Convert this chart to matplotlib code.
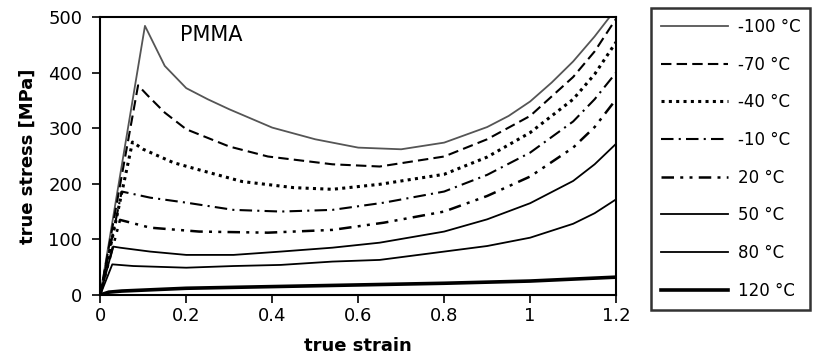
import numpy as np
import matplotlib
matplotlib.use('Agg')
import matplotlib.pyplot as plt

plt.rcParams['font.family'] = ['DejaVu Sans']

# temperature labels
labels = ['-100 \u00b0C', '-70 \u00b0C', '-40 \u00b0C', '-10 \u00b0C',
          '20 \u00b0C', '50 \u00b0C', '80 \u00b0C', '120 \u00b0C']

# true strain / true stress [MPa]
strainM100 = [0, 0.104, 0.15, 0.2, 0.25, 0.3, 0.4, 0.5, 0.6, 0.7, 0.8, 0.9, 0.95, 1.0, 1.05, 1.1, 1.15, 1.2]
stressM100 = [0, 484, 412, 372, 352, 334, 301, 280, 265, 262, 274, 302, 322, 348, 382, 420, 465, 515]

strainM70 = [0, 0.088, 0.11, 0.15, 0.2, 0.3, 0.39, 0.54, 0.65, 0.8, 0.9, 1.0, 1.1, 1.15, 1.2]
stressM70 = [0, 377, 359, 328, 298, 267, 249, 235, 231, 249, 280, 322, 392, 438, 497]

strainM40 = [0, 0.075, 0.1, 0.17, 0.23, 0.33, 0.45, 0.54, 0.65, 0.8, 0.9, 1.0, 1.1, 1.15, 1.2]
stressM40 = [0, 275, 262, 238, 225, 204, 193, 190, 199, 217, 248, 292, 352, 397, 455]

strainM10 = [0, 0.05, 0.116, 0.2, 0.31, 0.42, 0.54, 0.66, 0.8, 0.9, 1.0, 1.1, 1.15, 1.2]
stressM10 = [0, 186, 175, 166, 153, 150, 153, 166, 186, 216, 256, 312, 352, 400]

strainP20 = [0, 0.046, 0.116, 0.23, 0.39, 0.54, 0.66, 0.8, 0.9, 1.0, 1.1, 1.15, 1.2]
stressP20 = [0, 135, 121, 114, 112, 117, 130, 150, 178, 213, 265, 302, 352]

strainP50 = [0, 0.03, 0.046, 0.116, 0.2, 0.31, 0.42, 0.54, 0.65, 0.8, 0.9, 1.0, 1.1, 1.15, 1.2]
stressP50 = [0, 87, 85, 78, 72, 72, 78, 85, 94, 114, 136, 165, 205, 235, 272]

strainP80 = [0, 0.028, 0.077, 0.2, 0.31, 0.42, 0.54, 0.65, 0.8, 0.9, 1.0, 1.1, 1.15, 1.2]
stressP80 = [0, 55, 52, 49, 52, 54, 60, 63, 78, 88, 103, 128, 147, 172]

strainP120 = [0, 0.02, 0.05, 0.2, 0.4, 0.6, 0.8, 1.0, 1.2]
stressP120 = [0, 5, 7, 12, 15, 18, 21, 25, 32]

fig = plt.figure(figsize=(8.15, 3.61), dpi=100)
ax = fig.add_axes([0.123, 0.183, 0.633, 0.77])

ax.plot(strainM100, stressM100, color='#555555', lw=1.3, ls='-', label=labels[0])
ax.plot(strainM70, stressM70, color='black', lw=1.5, dashes=(5, 2.5), label=labels[1])
ax.plot(strainM40, stressM40, color='black', lw=2.2, dashes=(1, 1.4), label=labels[2])
ax.plot(strainM10, stressM10, color='black', lw=1.5, dashes=(6, 2.5, 1, 2.5), label=labels[3])
ax.plot(strainP20, stressP20, color='black', lw=1.8, dashes=(5, 2.5, 1.2, 2.5, 1.2, 2.5), label=labels[4])
ax.plot(strainP50, stressP50, color='black', lw=1.3, ls='-', label=labels[5])
ax.plot(strainP80, stressP80, color='black', lw=1.3, ls='-', label=labels[6])
ax.plot(strainP120, stressP120, color='black', lw=2.6, ls='-', label=labels[7])

ax.set_xlim(0, 1.2)
ax.set_ylim(0, 500)
ax.set_xticks([0, 0.2, 0.4, 0.6, 0.8, 1.0, 1.2])
ax.set_xticklabels(['0', '0.2', '0.4', '0.6', '0.8', '1', '1.2'])
ax.set_yticks([0, 100, 200, 300, 400, 500])
ax.tick_params(direction='out', length=6, width=1.2, labelsize=13)
ax.tick_params(axis='x', pad=3)
ax.tick_params(axis='y', pad=7)
for s in ax.spines.values():
    s.set_linewidth(1.5)

ax.set_xlabel('true strain', fontsize=13, fontweight='bold', labelpad=8)
ax.set_ylabel('true stress [MPa]', fontsize=13, fontweight='bold', labelpad=8)
ax.text(0.185, 468, 'PMMA', fontsize=15, ha='left', va='center')

leg = fig.legend(loc='upper left', bbox_to_anchor=(0.7988, 0.978), fontsize=12,
                 handlelength=4.0, labelspacing=1.18, handletextpad=0.6,
                 borderpad=0.6, borderaxespad=0, fancybox=False, frameon=True)
leg.get_frame().set_edgecolor('black')
leg.get_frame().set_linewidth(1.8)

fig.savefig('out.png', dpi=100)
